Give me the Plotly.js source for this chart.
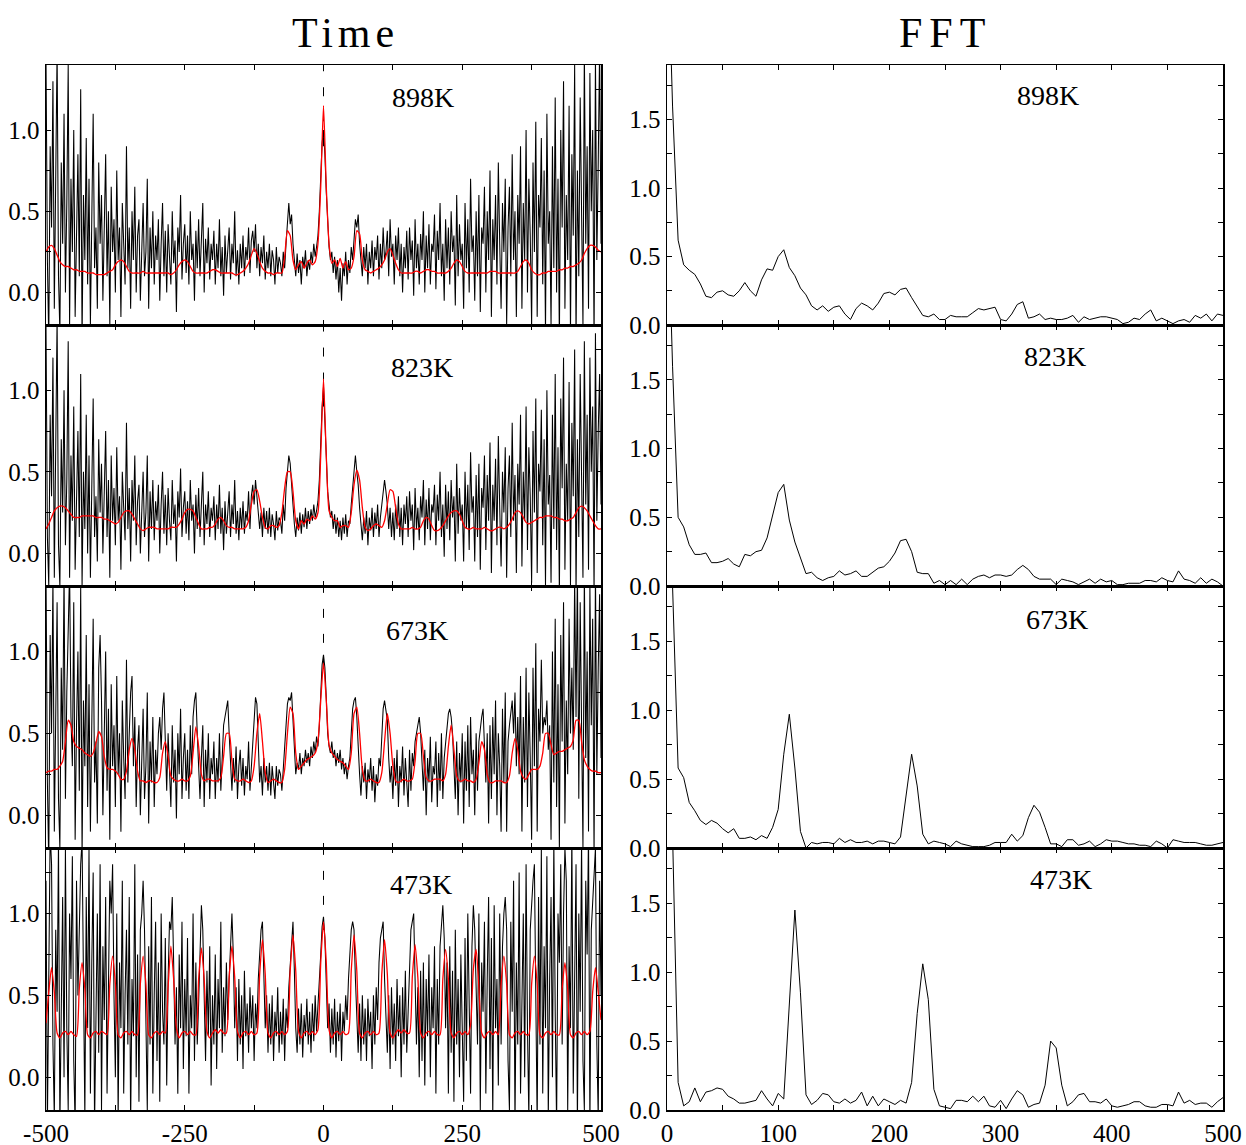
<!DOCTYPE html>
<html>
<head>
<meta charset="utf-8">
<script src="https://cdn.plot.ly/plotly-3.0.1.min.js"></script>
<style>html,body{margin:0;padding:0;background:#fff;}#chart{width:1246px;height:1145px;}</style>
</head>
<body>
<div id="chart"></div>
<script>
// ---------- DATA ----------
const temps = ["898K", "823K", "673K", "473K"];
const noiseStart = -500, noiseStep = 2.5, noiseCount = 401;
const fitStart = -500, fitStep = 5, fitCount = 201;
const fftStart = 0, fftStep = 5, fftCount = 101;

const time898 = [1.45,0.2,-0.3,0.9,0.4,1.3,-0.1,0.6,1.5,0.1,
 -0.25,0.8,0.3,1.1,0.0,0.55,1.4,-0.2,0.7,0.25,
 1.0,-0.15,0.45,0.85,0.1,1.25,-0.3,0.6,0.2,0.95,
 0.05,0.7,-0.2,0.5,1.1,0.15,0.4,-0.1,0.8,0.3,
 0.6,-0.05,0.35,0.85,0.1,0.5,-0.2,0.65,0.25,0.45,
 0.0,0.75,0.2,0.4,-0.15,0.55,0.3,0.05,0.9,0.15,
 0.4,-0.1,0.5,0.2,0.65,0.0,0.35,0.45,-0.05,0.3,
 0.55,0.1,0.25,0.7,-0.1,0.4,0.15,0.5,0.05,0.35,
 0.2,0.45,-0.05,0.3,0.55,0.1,0.38,0.0,0.42,0.22,
 0.05,0.5,0.18,0.32,-0.12,0.4,0.25,0.6,0.08,0.3,
 0.42,0.12,0.35,0.05,0.5,0.2,0.3,-0.05,0.38,0.15,
 0.45,0.1,0.28,0.55,0.0,0.33,0.18,0.4,0.08,0.3,
 0.2,0.38,0.05,0.3,0.15,0.45,0.1,0.28,-0.02,0.35,
 0.12,0.25,0.4,0.08,0.3,0.18,0.5,0.1,0.26,0.05,
 0.3,0.15,0.35,0.1,0.28,0.2,0.4,0.12,0.32,0.38,
 0.25,0.42,0.15,0.3,0.1,0.28,0.18,0.35,0.08,0.25,
 0.15,0.3,0.1,0.26,0.2,0.05,0.28,0.12,0.22,0.18,
 0.1,0.25,0.15,0.3,0.4,0.55,0.42,0.48,0.3,0.2,
 0.1,0.24,0.12,0.2,0.05,0.22,0.15,0.26,0.1,0.2,
 0.14,0.25,0.18,0.3,0.22,0.28,0.35,0.5,0.75,0.92,
 1.0,
 0.85,0.62,0.4,0.28,0.2,0.25,0.12,0.22,0.08,0.2,
 0.0,0.15,-0.05,0.18,0.1,0.25,0.05,0.2,0.12,0.28,
 0.2,0.35,0.45,0.4,0.48,0.3,0.22,0.1,0.28,0.15,
 0.3,0.05,0.25,0.15,0.32,0.1,0.28,0.2,0.35,0.08,
 0.3,0.15,0.4,0.2,0.25,0.38,0.1,0.45,0.22,0.3,
 0.05,0.35,0.2,0.4,0.1,0.3,0.0,0.28,0.15,0.38,
 0.08,0.4,0.2,0.32,-0.02,0.45,0.15,0.3,0.05,0.36,
 0.2,0.5,0.0,0.35,0.15,0.42,0.05,0.3,0.25,0.48,
 0.02,0.38,0.2,0.55,0.1,0.3,-0.05,0.45,0.15,0.4,
 0.05,0.5,0.25,0.35,-0.08,0.6,0.1,0.42,0.2,0.3,
 -0.1,0.55,0.15,0.45,0.0,0.7,0.25,0.35,-0.05,0.5,
 0.1,0.6,-0.12,0.4,0.3,0.65,0.0,0.5,0.2,0.75,
 -0.15,0.45,0.2,0.6,0.05,0.8,0.3,-0.1,0.55,0.25,
 0.7,-0.2,0.4,0.65,0.1,0.85,0.2,0.5,-0.15,0.6,
 0.3,0.9,-0.1,0.55,0.2,1.0,0.0,0.7,0.35,-0.2,
 0.8,0.25,1.05,-0.15,0.6,0.4,0.95,0.05,0.75,-0.25,
 1.1,0.3,0.5,-0.2,0.9,0.15,1.2,0.0,0.7,-0.3,
 1.0,0.4,1.3,-0.1,0.6,0.2,1.15,-0.25,0.85,0.35,
 1.4,-0.3,0.75,0.1,1.2,0.45,-0.2,1.5,0.3,0.9,
 -0.1,1.35,0.5,1.0,-0.3,1.45,0.2,0.8,1.5,0.3];

const fit898 = [0.25,0.28,0.29,0.27,0.23,0.19,0.17,0.16,0.16,0.15,
 0.14,0.14,0.13,0.13,0.13,0.12,0.12,0.12,0.11,0.11,
 0.11,0.11,0.12,0.13,0.14,0.17,0.19,0.2,0.19,0.16,
 0.13,0.12,0.12,0.12,0.12,0.13,0.12,0.12,0.12,0.12,
 0.12,0.12,0.12,0.12,0.12,0.11,0.12,0.14,0.17,0.19,
 0.2,0.19,0.16,0.13,0.12,0.12,0.12,0.12,0.12,0.13,
 0.14,0.14,0.13,0.12,0.12,0.12,0.12,0.12,0.11,0.11,
 0.12,0.13,0.15,0.18,0.23,0.27,0.24,0.19,0.15,0.13,
 0.12,0.12,0.11,0.12,0.12,0.12,0.22,0.38,0.35,0.2,
 0.14,0.17,0.19,0.15,0.18,0.2,0.17,0.19,0.3,0.65,
 1.15,
 0.65,0.3,0.18,0.2,0.16,0.21,0.15,0.19,0.14,0.15,
 0.22,0.38,0.36,0.2,0.14,0.13,0.12,0.13,0.14,0.15,
 0.17,0.2,0.25,0.27,0.23,0.18,0.14,0.12,0.12,0.12,
 0.12,0.12,0.13,0.13,0.12,0.13,0.14,0.14,0.13,0.13,
 0.12,0.12,0.12,0.12,0.13,0.15,0.18,0.2,0.19,0.16,
 0.13,0.12,0.12,0.12,0.12,0.12,0.12,0.12,0.12,0.13,
 0.13,0.13,0.12,0.12,0.12,0.12,0.12,0.12,0.12,0.13,
 0.16,0.19,0.2,0.18,0.14,0.12,0.11,0.11,0.12,0.12,
 0.13,0.13,0.13,0.13,0.14,0.14,0.15,0.15,0.16,0.16,
 0.17,0.18,0.2,0.24,0.27,0.29,0.29,0.28,0.26,0.25];

const time823 = [1.4,0.1,-0.2,0.85,0.35,1.2,-0.15,0.5,1.45,0.05,
 -0.2,0.7,0.25,1.0,0.05,0.45,1.3,-0.15,0.6,0.2,
 0.9,-0.1,0.4,0.75,0.1,1.1,-0.2,0.5,0.15,0.85,
 0.0,0.6,-0.15,0.45,0.95,0.1,0.35,-0.05,0.7,0.25,
 0.55,0.0,0.3,0.75,0.1,0.45,-0.15,0.6,0.2,0.4,
 0.05,0.65,0.2,0.35,-0.1,0.5,0.28,0.08,0.8,0.15,
 0.4,-0.05,0.45,0.2,0.6,0.05,0.32,0.42,0.0,0.3,
 0.5,0.1,0.25,0.6,-0.05,0.38,0.15,0.45,0.08,0.32,
 0.2,0.42,0.0,0.3,0.5,0.12,0.36,0.05,0.4,0.2,
 0.08,0.45,0.18,0.3,-0.05,0.38,0.22,0.52,0.1,0.28,
 0.38,0.12,0.32,0.08,0.45,0.2,0.3,0.0,0.36,0.15,
 0.4,0.1,0.26,0.5,0.05,0.3,0.18,0.38,0.1,0.28,
 0.2,0.35,0.08,0.3,0.15,0.42,0.12,0.28,0.02,0.32,
 0.12,0.25,0.38,0.1,0.3,0.18,0.45,0.12,0.26,0.08,
 0.28,0.15,0.32,0.12,0.26,0.2,0.38,0.15,0.35,0.42,
 0.3,0.45,0.35,0.3,0.15,0.25,0.1,0.28,0.15,0.26,
 0.12,0.28,0.1,0.24,0.18,0.08,0.26,0.14,0.22,0.2,
 0.12,0.3,0.2,0.4,0.52,0.6,0.55,0.45,0.3,0.18,
 0.1,0.22,0.14,0.25,0.12,0.24,0.16,0.28,0.15,0.26,
 0.18,0.27,0.2,0.3,0.22,0.26,0.32,0.45,0.7,0.9,
 1.02,
 0.85,0.6,0.38,0.28,0.22,0.26,0.15,0.24,0.12,0.22,
 0.1,0.2,0.08,0.22,0.12,0.24,0.1,0.2,0.18,0.3,
 0.4,0.55,0.6,0.5,0.42,0.28,0.18,0.08,0.22,0.12,
 0.26,0.05,0.22,0.14,0.28,0.1,0.25,0.15,0.3,0.1,
 0.22,0.3,0.4,0.45,0.38,0.3,0.15,0.28,0.1,0.25,
 0.08,0.3,0.15,0.35,0.1,0.28,0.05,0.3,0.18,0.35,
 0.1,0.38,0.2,0.3,0.02,0.4,0.15,0.28,0.08,0.35,
 0.22,0.45,0.05,0.33,0.15,0.4,0.08,0.3,0.25,0.42,
 0.05,0.36,0.2,0.5,0.1,0.3,-0.02,0.42,0.15,0.38,
 0.08,0.45,0.22,0.35,-0.05,0.55,0.12,0.4,0.2,0.3,
 -0.05,0.5,0.15,0.42,0.02,0.62,0.25,0.35,-0.05,0.48,
 0.1,0.55,-0.1,0.4,0.28,0.6,0.02,0.48,0.2,0.68,
 -0.12,0.42,0.2,0.58,0.05,0.72,0.28,-0.08,0.5,0.25,
 0.65,-0.15,0.4,0.6,0.1,0.8,0.2,0.48,-0.12,0.55,
 0.3,0.85,-0.08,0.5,0.2,0.9,0.02,0.65,0.35,-0.18,
 0.75,0.25,0.95,-0.12,0.55,0.38,0.88,0.05,0.7,-0.2,
 1.0,0.3,0.48,-0.18,0.85,0.15,1.1,0.02,0.65,-0.25,
 0.95,0.4,1.2,-0.1,0.55,0.2,1.05,-0.2,0.8,0.35,
 1.25,-0.25,0.7,0.1,1.1,0.45,-0.15,1.3,0.3,0.85,
 -0.1,1.2,0.5,0.9,-0.25,1.35,0.2,0.75,1.1,0.3];

const fit823 = [0.15,0.18,0.22,0.26,0.28,0.29,0.29,0.28,0.26,0.24,
 0.22,0.22,0.22,0.23,0.23,0.23,0.23,0.23,0.22,0.22,
 0.22,0.21,0.21,0.2,0.19,0.18,0.19,0.22,0.25,0.26,
 0.26,0.24,0.21,0.18,0.15,0.14,0.15,0.16,0.16,0.16,
 0.15,0.15,0.15,0.15,0.15,0.16,0.16,0.16,0.18,0.21,
 0.25,0.27,0.27,0.26,0.22,0.18,0.15,0.15,0.15,0.16,
 0.16,0.18,0.21,0.22,0.2,0.17,0.16,0.16,0.15,0.15,
 0.15,0.15,0.16,0.2,0.3,0.38,0.39,0.32,0.22,0.16,
 0.15,0.17,0.17,0.16,0.17,0.25,0.4,0.5,0.5,0.38,
 0.2,0.15,0.2,0.18,0.21,0.2,0.23,0.21,0.25,0.6,
 1.07,
 0.6,0.26,0.22,0.2,0.2,0.16,0.17,0.17,0.16,0.25,
 0.42,0.51,0.45,0.28,0.16,0.14,0.15,0.17,0.18,0.17,
 0.16,0.2,0.3,0.39,0.38,0.28,0.18,0.15,0.15,0.15,
 0.15,0.16,0.15,0.15,0.16,0.2,0.22,0.21,0.17,0.14,
 0.14,0.15,0.17,0.2,0.23,0.25,0.26,0.26,0.24,0.2,
 0.16,0.15,0.15,0.16,0.15,0.15,0.15,0.16,0.15,0.14,
 0.14,0.15,0.16,0.16,0.15,0.16,0.18,0.21,0.25,0.26,
 0.25,0.22,0.19,0.18,0.19,0.2,0.21,0.22,0.22,0.23,
 0.23,0.23,0.22,0.22,0.21,0.21,0.2,0.2,0.21,0.22,
 0.25,0.28,0.29,0.28,0.26,0.23,0.2,0.17,0.15,0.15];

const time673 = [1.5,0.2,-0.3,1.1,0.5,1.45,-0.1,0.7,1.3,0.1,
 -0.2,0.9,0.4,1.5,0.1,0.75,1.2,1.5,0.6,0.3,
 1.3,-0.15,0.55,1.0,0.15,1.4,-0.25,0.7,0.3,1.1,
 0.05,0.8,-0.1,0.6,1.2,0.2,0.45,-0.05,0.9,1.1,
 0.7,0.0,0.45,1.0,0.15,0.65,-0.15,0.8,0.3,0.55,
 0.05,0.85,0.25,0.5,-0.1,0.7,0.35,0.1,0.95,0.2,
 0.5,0.75,0.85,0.3,0.6,0.05,0.4,0.55,0.0,0.35,
 0.65,0.1,0.3,0.75,-0.05,0.45,0.2,0.6,0.05,0.4,
 0.25,0.5,0.6,0.4,0.65,0.75,0.35,0.15,0.5,0.2,
 0.05,0.55,0.2,0.4,-0.02,0.5,0.25,0.65,0.1,0.35,
 0.5,0.15,0.4,0.1,0.55,0.25,0.6,0.7,0.75,0.5,
 0.3,0.1,0.35,0.55,0.05,0.4,0.2,0.5,0.1,0.35,
 0.25,0.45,0.1,0.35,0.2,0.5,0.15,0.38,0.55,0.6,
 0.65,0.7,0.5,0.3,0.15,0.35,0.2,0.42,0.1,0.3,
 0.4,0.18,0.35,0.12,0.3,0.22,0.45,0.15,0.3,0.5,
 0.62,0.72,0.68,0.45,0.2,0.3,0.12,0.35,0.2,0.3,
 0.15,0.32,0.12,0.3,0.22,0.1,0.3,0.18,0.28,0.25,
 0.15,0.3,0.4,0.55,0.68,0.72,0.7,0.75,0.55,0.35,
 0.25,0.32,0.28,0.38,0.25,0.35,0.3,0.4,0.32,0.38,
 0.3,0.42,0.35,0.45,0.38,0.48,0.42,0.55,0.75,0.92,
 0.98,
 0.9,0.72,0.5,0.42,0.38,0.45,0.35,0.4,0.3,0.38,
 0.32,0.4,0.28,0.35,0.25,0.32,0.22,0.3,0.35,0.5,
 0.65,0.7,0.72,0.6,0.4,0.25,0.12,0.3,0.2,0.32,
 0.1,0.28,0.2,0.35,0.15,0.3,0.08,0.25,0.18,0.35,
 0.3,0.5,0.65,0.7,0.62,0.58,0.35,0.2,0.3,0.1,
 0.35,0.18,0.4,0.05,0.3,0.2,0.42,0.12,0.35,0.22,
 0.05,0.4,0.15,0.38,0.3,0.45,0.5,0.55,0.6,0.5,
 0.3,0.15,0.4,0.0,0.35,0.2,0.48,0.08,0.3,0.25,
 0.45,0.05,0.38,0.15,0.5,0.1,0.35,0.45,0.55,0.62,
 0.65,0.6,0.5,0.3,0.1,0.45,0.0,0.38,0.2,0.5,
 -0.05,0.45,0.15,0.55,0.05,0.6,0.25,0.4,0.0,0.5,
 0.15,0.45,0.55,0.6,0.65,0.4,0.2,0.5,-0.05,0.55,
 0.1,0.6,0.25,0.7,0.0,0.5,0.3,-0.1,0.65,0.2,
 0.75,-0.1,0.45,0.55,0.65,0.7,0.5,0.75,0.3,0.6,
 0.25,0.85,-0.1,0.6,0.2,0.9,0.05,0.75,0.35,-0.15,
 0.9,0.3,1.05,-0.1,0.65,0.45,0.95,0.5,0.6,0.55,
 0.7,0.4,0.55,-0.15,1.0,0.2,1.2,0.05,0.8,-0.2,
 1.1,0.45,1.3,-0.05,0.7,0.25,1.2,0.5,0.9,0.4,
 1.45,0.6,1.5,0.1,1.3,0.5,-0.2,1.5,0.35,1.0,
 -0.1,1.4,0.55,1.2,-0.25,1.5,0.25,0.9,1.35,0.35];

const fit673 = [0.26,0.27,0.27,0.28,0.28,0.3,0.33,0.45,0.58,0.55,
 0.45,0.42,0.41,0.4,0.38,0.37,0.36,0.38,0.44,0.51,
 0.48,0.36,0.29,0.28,0.28,0.27,0.25,0.22,0.22,0.27,
 0.4,0.47,0.4,0.27,0.21,0.21,0.2,0.21,0.21,0.2,
 0.2,0.23,0.38,0.45,0.36,0.24,0.22,0.21,0.21,0.22,
 0.21,0.21,0.24,0.38,0.54,0.42,0.25,0.21,0.22,0.22,
 0.21,0.21,0.21,0.23,0.36,0.5,0.5,0.33,0.22,0.21,
 0.21,0.22,0.21,0.2,0.21,0.3,0.5,0.62,0.45,0.26,
 0.2,0.21,0.22,0.21,0.2,0.2,0.28,0.5,0.66,0.62,
 0.38,0.28,0.3,0.32,0.34,0.35,0.36,0.38,0.45,0.7,
 0.93,
 0.7,0.43,0.38,0.36,0.34,0.33,0.32,0.3,0.28,0.38,
 0.62,0.66,0.5,0.28,0.21,0.21,0.22,0.21,0.2,0.2,
 0.26,0.45,0.62,0.5,0.3,0.21,0.2,0.21,0.22,0.21,
 0.21,0.22,0.33,0.5,0.5,0.36,0.23,0.21,0.21,0.22,
 0.22,0.22,0.21,0.25,0.42,0.55,0.4,0.24,0.21,0.21,
 0.22,0.21,0.21,0.2,0.22,0.32,0.45,0.4,0.25,0.2,
 0.2,0.21,0.21,0.21,0.2,0.2,0.24,0.38,0.47,0.4,
 0.27,0.23,0.22,0.25,0.28,0.28,0.28,0.3,0.38,0.5,
 0.5,0.43,0.37,0.38,0.39,0.39,0.4,0.41,0.42,0.46,
 0.58,0.58,0.45,0.34,0.3,0.28,0.27,0.27,0.26,0.26];

const time473 = [1.2,-0.3,0.6,1.5,1.3,0.2,-0.25,0.9,0.4,1.45,
 -0.3,0.5,1.1,0.0,1.4,0.3,-0.2,1.0,0.6,1.35,
 0.1,-0.3,1.2,0.5,0.9,1.3,1.45,0.4,-0.25,1.1,
 0.3,1.4,-0.1,0.7,1.25,-0.3,0.55,1.0,0.15,1.3,
 -0.2,0.8,0.35,1.1,-0.1,0.6,1.2,1.0,1.3,0.5,
 0.0,1.0,-0.25,0.7,0.3,1.2,-0.1,0.5,0.9,0.2,
 1.1,-0.3,0.6,0.25,1.3,0.0,0.75,-0.15,0.9,1.0,
 1.2,0.9,0.3,-0.2,0.8,0.2,1.1,-0.1,0.5,0.95,
 0.1,0.7,-0.15,1.0,0.4,0.2,0.85,-0.05,0.6,0.95,
 0.9,1.1,0.7,0.2,0.55,-0.1,0.75,0.3,0.95,0.05,
 0.6,0.25,0.85,-0.1,0.5,0.3,1.0,0.1,0.7,0.2,
 0.45,0.85,1.05,0.9,0.55,0.1,0.65,0.25,0.8,-0.05,
 0.5,0.2,0.75,0.05,0.6,0.3,0.95,0.15,0.55,0.25,
 0.7,0.35,0.6,0.85,1.0,0.75,0.3,0.55,0.1,0.6,
 0.2,0.5,0.05,0.65,0.25,0.45,0.15,0.55,0.3,0.5,
 0.1,0.45,0.3,0.6,0.75,0.9,0.95,0.65,0.3,0.5,
 0.15,0.45,0.2,0.5,0.1,0.4,0.25,0.55,0.15,0.4,
 0.2,0.48,0.1,0.42,0.3,0.55,0.7,0.85,0.95,0.65,
 0.3,0.15,0.42,0.2,0.45,0.12,0.38,0.25,0.48,0.2,
 0.4,0.15,0.45,0.22,0.5,0.28,0.42,0.55,0.75,0.92,
 0.98,
 0.85,0.6,0.3,0.45,0.15,0.42,0.2,0.48,0.12,0.4,
 0.22,0.45,0.1,0.4,0.28,0.5,0.35,0.6,0.8,0.9,
 0.95,0.9,0.6,0.3,0.15,0.45,0.1,0.5,0.2,0.42,
 0.1,0.48,0.25,0.4,0.05,0.5,0.2,0.55,0.35,0.7,
 0.85,0.9,0.95,0.6,0.3,0.15,0.5,0.05,0.55,0.2,
 0.45,0.1,0.6,0.25,0.5,0.0,0.55,0.2,0.65,0.15,
 0.4,0.7,0.9,0.95,1.0,0.6,0.2,0.55,0.0,0.65,
 0.1,0.7,-0.05,0.6,0.25,0.75,0.0,0.55,0.3,0.8,
 -0.1,0.6,0.2,0.8,0.9,1.05,0.85,0.3,0.7,-0.1,
 0.8,0.15,0.65,-0.15,0.9,0.2,0.6,0.0,0.75,0.3,
 -0.15,0.85,0.1,1.0,0.3,-0.1,0.8,1.05,0.9,0.5,
 0.2,1.0,-0.2,0.7,0.4,0.95,-0.1,0.6,1.1,0.05,
 0.85,-0.25,1.05,0.3,0.6,-0.05,1.0,0.2,0.8,1.0,
 1.1,0.9,0.1,-0.2,0.95,0.4,1.2,-0.3,0.7,0.2,
 1.25,-0.1,0.6,1.0,0.0,1.3,0.3,-0.25,0.9,1.1,
 1.2,1.3,0.5,-0.3,1.1,0.2,1.4,-0.1,0.8,0.3,
 1.35,-0.25,0.6,1.1,0.0,1.45,0.4,-0.3,1.0,0.7,
 1.3,0.2,1.0,1.4,1.2,-0.2,0.8,0.3,1.5,-0.1,
 0.6,1.3,-0.3,1.0,0.4,1.45,0.1,-0.2,1.2,0.75,
 1.5,-0.3,0.9,1.1,1.3,1.4,0.2,-0.25,1.2,0.5];

const fit473 = [0.33,0.52,0.67,0.52,0.27,0.24,0.27,0.28,0.26,0.28,
 0.26,0.25,0.54,0.7,0.54,0.26,0.24,0.27,0.28,0.26,
 0.28,0.27,0.26,0.57,0.74,0.57,0.26,0.24,0.27,0.28,
 0.26,0.28,0.26,0.26,0.57,0.74,0.57,0.26,0.24,0.27,
 0.28,0.26,0.28,0.27,0.55,0.8,0.6,0.3,0.24,0.27,
 0.28,0.26,0.28,0.26,0.26,0.6,0.79,0.6,0.28,0.24,
 0.27,0.29,0.27,0.29,0.27,0.27,0.61,0.8,0.61,0.28,
 0.24,0.27,0.28,0.26,0.28,0.26,0.27,0.63,0.84,0.63,
 0.27,0.24,0.27,0.28,0.26,0.28,0.26,0.28,0.65,0.87,
 0.65,0.28,0.24,0.27,0.28,0.26,0.28,0.26,0.29,0.7,
 0.95,
 0.7,0.29,0.24,0.27,0.28,0.26,0.28,0.26,0.27,0.65,
 0.87,0.65,0.27,0.24,0.27,0.28,0.26,0.28,0.26,0.27,
 0.63,0.84,0.63,0.27,0.24,0.27,0.29,0.27,0.29,0.27,
 0.27,0.61,0.81,0.61,0.27,0.24,0.27,0.28,0.26,0.28,
 0.26,0.26,0.6,0.78,0.6,0.27,0.24,0.27,0.28,0.26,
 0.28,0.26,0.32,0.66,0.78,0.55,0.27,0.24,0.27,0.28,
 0.26,0.28,0.26,0.57,0.74,0.57,0.26,0.24,0.27,0.28,
 0.26,0.28,0.26,0.26,0.57,0.74,0.57,0.26,0.24,0.27,
 0.28,0.26,0.28,0.26,0.26,0.54,0.7,0.54,0.26,0.24,
 0.27,0.28,0.26,0.28,0.26,0.28,0.52,0.67,0.52,0.35];

const fft898 = [3.0,1.6,0.62,0.44,0.40,0.37,0.3,0.21,0.2,0.24,
 0.25,0.22,0.21,0.25,0.31,0.25,0.21,0.33,0.41,0.40,
 0.5,0.55,0.42,0.36,0.27,0.22,0.14,0.11,0.14,0.1,
 0.13,0.14,0.08,0.04,0.12,0.16,0.14,0.11,0.16,0.23,
 0.24,0.22,0.26,0.27,0.2,0.13,0.07,0.06,0.08,0.04,
 0.04,0.07,0.06,0.06,0.06,0.09,0.12,0.11,0.12,0.13,
 0.04,0.03,0.08,0.15,0.17,0.05,0.06,0.08,0.04,0.05,
 0.04,0.04,0.05,0.07,0.02,0.06,0.04,0.05,0.06,0.06,
 0.05,0.04,0.01,0.02,0.05,0.04,0.08,0.11,0.03,0.05,
 0.03,0.01,0.03,0.04,0.02,0.07,0.05,0.08,0.03,0.08,
 0.07];

const fft823 = [3.0,1.6,0.5,0.43,0.3,0.23,0.23,0.24,0.17,0.17,
 0.18,0.2,0.16,0.14,0.23,0.22,0.25,0.26,0.35,0.52,
 0.68,0.74,0.48,0.32,0.2,0.09,0.1,0.06,0.04,0.06,
 0.07,0.11,0.08,0.09,0.11,0.07,0.07,0.1,0.13,0.14,
 0.18,0.24,0.33,0.34,0.25,0.1,0.09,0.09,0.02,0.04,
 0.01,0.04,0.01,0.05,0.01,0.05,0.07,0.08,0.06,0.08,
 0.08,0.07,0.08,0.12,0.15,0.12,0.07,0.05,0.05,0.05,
 0.01,0.05,0.04,0.03,0.01,0.03,0.05,0.02,0.05,0.03,
 0.04,0.01,0.01,0.02,0.02,0.02,0.04,0.04,0.03,0.06,
 0.04,0.03,0.11,0.05,0.04,0.02,0.06,0.02,0.05,0.03,
 0.0];

const fft673 = [3.0,1.9,0.58,0.51,0.33,0.27,0.2,0.17,0.2,0.18,
 0.14,0.11,0.14,0.07,0.07,0.08,0.06,0.09,0.07,0.15,
 0.28,0.68,0.97,0.58,0.12,0.0,0.04,0.03,0.04,0.04,
 0.03,0.07,0.04,0.06,0.04,0.04,0.05,0.03,0.05,0.05,
 0.04,0.03,0.08,0.4,0.68,0.45,0.1,0.03,0.05,0.04,
 0.03,0.01,0.05,0.03,0.02,0.01,0.01,0.01,0.02,0.04,
 0.04,0.04,0.1,0.05,0.09,0.22,0.31,0.26,0.15,0.03,
 0.03,0.01,0.06,0.06,0.02,0.03,0.05,0.01,0.03,0.06,
 0.05,0.05,0.04,0.03,0.03,0.02,0.02,0.01,0.05,0.03,
 0.0,0.06,0.05,0.04,0.04,0.04,0.03,0.02,0.02,0.03,
 0.04];

const fft473 = [3.0,2.0,0.2,0.03,0.06,0.16,0.06,0.13,0.14,0.16,
 0.15,0.1,0.08,0.05,0.05,0.06,0.07,0.14,0.08,0.03,
 0.12,0.08,0.8,1.45,0.85,0.11,0.04,0.07,0.12,0.11,
 0.06,0.05,0.08,0.05,0.07,0.13,0.03,0.1,0.03,0.08,
 0.06,0.04,0.07,0.05,0.2,0.7,1.06,0.8,0.15,0.03,
 0.02,0.01,0.07,0.07,0.06,0.1,0.06,0.1,0.03,0.02,
 0.07,0.01,0.08,0.14,0.11,0.02,0.04,0.05,0.18,0.5,
 0.45,0.18,0.03,0.06,0.11,0.12,0.06,0.06,0.05,0.08,
 0.03,0.02,0.03,0.04,0.06,0.06,0.03,0.02,0.02,0.04,
 0.04,0.03,0.13,0.05,0.07,0.04,0.05,0.05,0.02,0.06,
 0.09];

const timeSeries = [time898, time823, time673, time473];
const fitSeries = [fit898, fit823, fit673, fit473];
const fftSeries = [fft898, fft823, fft673, fft473];

// ---------- BUILD ----------
const noiseX = Array.from({length: noiseCount}, (_, i) => noiseStart + noiseStep * i);
const fitX = Array.from({length: fitCount}, (_, i) => fitStart + fitStep * i);
const fftX = Array.from({length: fftCount}, (_, i) => fftStart + fftStep * i);

const FONT = "Liberation Serif, Times New Roman, serif";
const W = 1246, H = 1145;
const colL = [46 / W, 601 / W];
const colR = [667 / W, 1223 / W];
const rowPx = [[65, 325], [325, 586], [586, 848], [848, 1110]];
const rowDom = rowPx.map(([t, b]) => [1 - b / H, 1 - t / H]);

const traces = [];
const layout = {
  width: W, height: H,
  margin: {l: 0, r: 0, t: 0, b: 0},
  paper_bgcolor: "#fff", plot_bgcolor: "#fff",
  showlegend: false,
  font: {family: FONT, color: "#000", size: 25},
  annotations: [], shapes: []
};

function axisBase() {
  return {
    showline: true, linecolor: "#000", linewidth: 1.5, mirror: "ticks",
    ticks: "inside", ticklen: 5, tickwidth: 1, tickcolor: "#000",
    showgrid: false, zeroline: false, fixedrange: true,
    tickfont: {family: FONT, size: 25, color: "#000"}
  };
}

const problems = [];
for (let r = 0; r < 4; r++) {
  if (timeSeries[r].length !== noiseCount) problems.push("time" + r + ":" + timeSeries[r].length);
  if (fitSeries[r].length !== fitCount) problems.push("fit" + r + ":" + fitSeries[r].length);
  if (fftSeries[r].length !== fftCount) problems.push("fft" + r + ":" + fftSeries[r].length);

  const li = r + 1, ri = r + 5;
  const lx = "x" + (li === 1 ? "" : li), ly = "y" + (li === 1 ? "" : li);
  const rx = "x" + ri, ry = "y" + ri;
  const bottom = r === 3;

  const xl = axisBase();
  Object.assign(xl, {domain: colL, anchor: ly, range: [-500, 500],
    tickmode: "array",
    tickvals: [-500, -375, -250, -125, 0, 125, 250, 375, 500],
    ticktext: ["-500", "", "-250", "", "0", "", "250", "", "500"],
    showticklabels: bottom});
  const yl = axisBase();
  Object.assign(yl, {domain: rowDom[r], anchor: lx, range: [-0.2, 1.4],
    tickmode: "array",
    tickvals: [0, 0.25, 0.5, 0.75, 1.0, 1.25],
    ticktext: ["0.0", "", "0.5", "", "1.0", ""]});
  layout["xaxis" + (li === 1 ? "" : li)] = xl;
  layout["yaxis" + (li === 1 ? "" : li)] = yl;

  const xr = axisBase();
  Object.assign(xr, {domain: colR, anchor: ry, range: [0, 500],
    tickmode: "array",
    tickvals: [0, 50, 100, 150, 200, 250, 300, 350, 400, 450, 500],
    ticktext: ["0", "", "100", "", "200", "", "300", "", "400", "", "500"],
    showticklabels: bottom});
  const yr = axisBase();
  Object.assign(yr, {domain: rowDom[r], anchor: rx, range: [0, 1.9],
    tickmode: "array",
    tickvals: [0, 0.25, 0.5, 0.75, 1.0, 1.25, 1.5, 1.75],
    ticktext: ["0.0", "", "0.5", "", "1.0", "", "1.5", ""]});
  layout["xaxis" + ri] = xr;
  layout["yaxis" + ri] = yr;

  traces.push({x: noiseX, y: timeSeries[r], xaxis: lx, yaxis: ly, type: "scatter",
    mode: "lines", line: {color: "#000", width: 1.05}, hoverinfo: "skip"});
  traces.push({x: fitX, y: fitSeries[r], xaxis: lx, yaxis: ly, type: "scatter",
    mode: "lines", line: {color: "#ff0000", width: 1.3, shape: "spline", smoothing: 0.6}, hoverinfo: "skip"});
  traces.push({x: fftX, y: fftSeries[r], xaxis: rx, yaxis: ry, type: "scatter",
    mode: "lines", line: {color: "#000", width: 1}, hoverinfo: "skip"});

  layout.shapes.push({type: "line", xref: lx, yref: ly, x0: 0, x1: 0, y0: 0.9, y1: 1.4,
    line: {color: "#000", width: 1, dash: "9px,16px"}, layer: "below"});
}

const labelPosL = [[179, 1.2], [177, 1.14], [168, 1.13], [176, 1.18]];
const labelPosR = [[343, 1.68], [349, 1.67], [351, 1.66], [354, 1.67]];
for (let r = 0; r < 4; r++) {
  const li = r + 1, ri = r + 5;
  layout.annotations.push({text: temps[r], xref: "x" + (li === 1 ? "" : li), yref: "y" + (li === 1 ? "" : li),
    x: labelPosL[r][0], y: labelPosL[r][1], xanchor: "center", yanchor: "middle", showarrow: false,
    font: {family: FONT, size: 28, color: "#000"}});
  layout.annotations.push({text: temps[r], xref: "x" + ri, yref: "y" + ri,
    x: labelPosR[r][0], y: labelPosR[r][1], xanchor: "center", yanchor: "middle", showarrow: false,
    font: {family: FONT, size: 28, color: "#000"}});
}
layout.annotations.push({text: '<span style="letter-spacing:5px">Time</span>', xref: "paper", yref: "paper",
  x: 345 / W, y: 1 - 33 / H, xanchor: "center", yanchor: "middle",
  showarrow: false, font: {family: FONT, size: 42, color: "#000"}});
layout.annotations.push({text: '<span style="letter-spacing:7px">FFT</span>', xref: "paper", yref: "paper",
  x: 945 / W, y: 1 - 33 / H, xanchor: "center", yanchor: "middle",
  showarrow: false, font: {family: FONT, size: 42, color: "#000"}});

if (problems.length) {
  layout.annotations.push({text: "LEN: " + problems.join(" "), xref: "paper", yref: "paper",
    x: 0.5, y: 0.5, showarrow: false, font: {size: 20, color: "blue"}});
}

Plotly.newPlot("chart", traces, layout, {staticPlot: true, displayModeBar: false});
</script>
</body>
</html>
